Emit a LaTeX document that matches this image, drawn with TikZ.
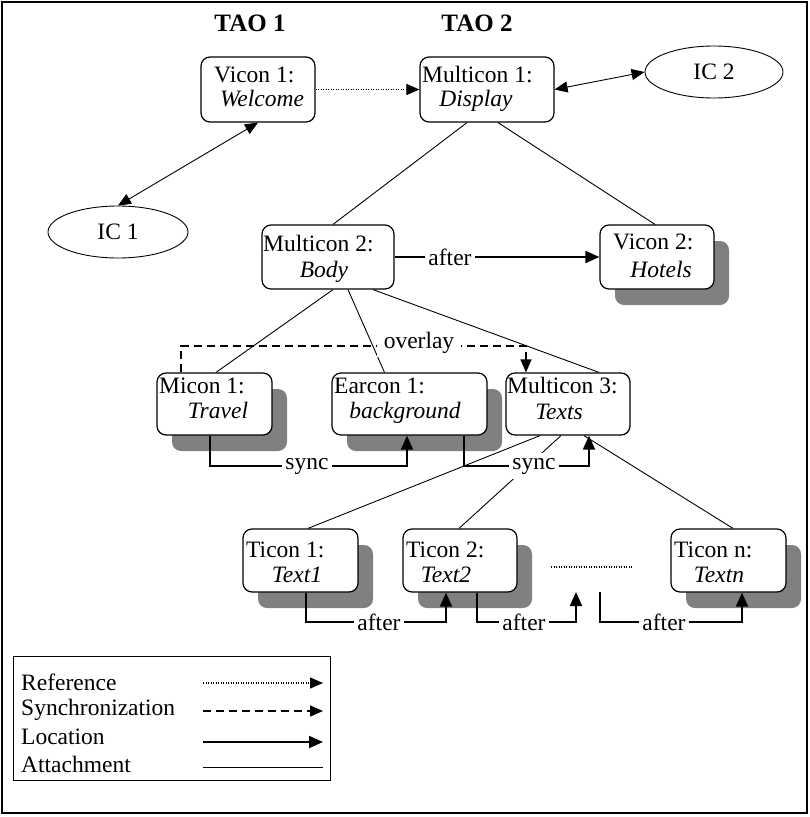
\documentclass[tikz,border=0pt]{standalone}
\usepackage{fontspec}
\setmainfont{Liberation Serif}
\usetikzlibrary{arrows.meta,calc,shapes.geometric}
\definecolor{shadegray}{HTML}{808080}
\begin{document}
\begin{tikzpicture}[x=1pt,y=-1pt,
  font=\fontsize{23.5}{25}\selectfont,
  objbox/.style={draw, line width=1.2pt, rounded corners=9pt, fill=white, inner sep=0pt},
  shadebox/.style={fill=shadegray, rounded corners=9pt},
  txt/.style={inner sep=0pt},
  icell/.style={draw, ellipse, line width=0.9pt, inner sep=0pt},
  attach/.style={line width=0.9pt},
  dotline/.style={line width=1.1pt, dash pattern=on 1.1pt off 1.4pt},
  locarrow/.style={line width=1.8pt, -{Triangle[length=14pt,width=12pt]}},
  dblarrow/.style={line width=0.9pt, {Triangle[length=13pt,width=11pt]}-{Triangle[length=13pt,width=11pt]}},
  refarrow/.style={dotline, -{Triangle[length=13pt,width=11pt]}},
  syncarrow/.style={line width=1.5pt, dash pattern=on 8pt off 5pt, -{Triangle[length=13pt,width=11pt]}},
  lbl/.style={fill=white, inner sep=3pt},
  taolbl/.style={inner sep=0pt, font=\fontsize{25}{27}\selectfont\bfseries}]
\useasboundingbox (0,0) rectangle (809,817);
\draw[line width=1.5pt] (2,2) rectangle (807,813);

% titles
\node[taolbl] (tao1) at (250,23) {TAO 1};
\node[taolbl] (tao2) at (477,23) {TAO 2};

% shadows
\fill[shadebox] (615,241) rectangle (729,305);
\fill[shadebox] (172,389) rectangle (287,451);
\fill[shadebox] (347,389) rectangle (502,451);
\fill[shadebox] (258,545) rectangle (373,608);
\fill[shadebox] (418,545) rectangle (532,608);
\fill[shadebox] (686,545) rectangle (801,608);

% boxes
\node[objbox, minimum width=114pt, minimum height=65pt] (v1) at (258,89.5) {};
\node[objbox, minimum width=134pt, minimum height=65pt] (m1) at (487,89.5) {};
\node[objbox, minimum width=132pt, minimum height=64pt] (m2) at (328,257) {};
\node[objbox, minimum width=114pt, minimum height=64pt] (v2) at (657,257) {};
\node[objbox, minimum width=115pt, minimum height=62pt] (mi1) at (214.5,404) {};
\node[objbox, minimum width=155pt, minimum height=62pt] (e1) at (409.5,404) {};
\node[objbox, minimum width=124pt, minimum height=62pt] (m3) at (568,404) {};
\node[objbox, minimum width=115pt, minimum height=63pt] (t1) at (300.5,560.5) {};
\node[objbox, minimum width=114pt, minimum height=63pt] (t2) at (460,560.5) {};
\node[objbox, minimum width=115pt, minimum height=63pt] (tn) at (728.5,560.5) {};

% box texts
\node[txt, anchor=base west] (v1a) at (214,82) {Vicon 1:};
\node[txt, anchor=base] (v1b) at (262,106) {\itshape Welcome};
\node[txt, anchor=base west] (m1a) at (422,82) {Multicon 1:};
\node[txt, anchor=base] (m1b) at (476,106) {\itshape Display};
\node[txt, anchor=base west] (m2a) at (263,251) {Multicon 2:};
\node[txt, anchor=base] (m2b) at (324,277) {\itshape Body};
\node[txt, anchor=base west] (v2a) at (613,249) {Vicon 2:};
\node[txt, anchor=base] (v2b) at (661,277) {\itshape Hotels};
\node[txt, anchor=base west] (mi1a) at (159,393) {Micon 1:};
\node[txt, anchor=base] (mi1b) at (218,418) {\itshape Travel};
\node[txt, anchor=base west] (e1a) at (334,393) {Earcon 1:};
\node[txt, anchor=base] (e1b) at (405,418) {\itshape background};
\node[txt, anchor=base west] (m3a) at (507,393) {Multicon 3:};
\node[txt, anchor=base] (m3b) at (559,419) {\itshape Texts};
\node[txt, anchor=base west] (t1a) at (246,557) {Ticon 1:};
\node[txt, anchor=base] (t1b) at (297,582) {\itshape Text1};
\node[txt, anchor=base west] (t2a) at (406,557) {Ticon 2:};
\node[txt, anchor=base] (t2b) at (446,582) {\itshape Text2};
\node[txt, anchor=base west] (tna) at (674,557) {Ticon n:};
\node[txt, anchor=base] (tnb) at (719,582) {\itshape Textn};

% ellipses
\node[icell, minimum width=140pt, minimum height=52pt] (ic1) at (118,232) {IC 1};
\node[icell, minimum width=138pt, minimum height=52pt] (ic2) at (714,72) {IC 2};

% helper coordinates
\coordinate (yo) at (0,346);
\coordinate (ys) at (0,466);
\coordinate (ya) at (0,622);

% reference and location between top items
\draw[refarrow] (v1.east) -- (m1.west);
\draw[dblarrow] (m1.east) -- (ic2.west);
\draw[dblarrow] (v1.south) -- (ic1.north);

% attachments
\draw[attach] ([xshift=-20]m1.south) -- ([xshift=5]m2.north);
\draw[attach] ([xshift=11]m1.south) -- ([xshift=-2]v2.north);
\draw[attach] ([xshift=5]m2.south) -- ([xshift=1.5]mi1.north);
\draw[attach] ([xshift=20]m2.south) -- ([xshift=-25]e1.north);
\draw[attach] ([xshift=45]m2.south) -- ([xshift=31]m3.north);
\draw[attach] ([xshift=-28]m3.south) -- ([xshift=7.5]t1.north);
\draw[attach] ([xshift=-7]m3.south) -- ([xshift=-1]t2.north);
\draw[attach] ([xshift=16]m3.south) -- ([xshift=4.5]tn.north);

% overlay (synchronization)
\coordinate (o1) at ([xshift=-33.5]mi1.north);
\coordinate (o2) at ([xshift=-42]m3.north);
\draw[syncarrow] (o1) -- (o1 |- yo) -| (o2);

% location: after Body -> Hotels
\draw[locarrow] (m2.east) -- (v2.west);

% sync arrows
\coordinate (s1a) at ([xshift=-4.5]mi1.south);
\coordinate (s1b) at ([xshift=-2.5]e1.south);
\draw[locarrow] (s1a) -- (s1a |- ys) -| (s1b);
\coordinate (s2a) at ([xshift=54.5]e1.south);
\coordinate (s2b) at ([xshift=21]m3.south);
\draw[locarrow] (s2a) -- (s2a |- ys) -| (s2b);

% after arrows among ticons
\coordinate (a1a) at ([xshift=5.5]t1.south);
\coordinate (a1b) at ([xshift=-14]t2.south);
\draw[locarrow] (a1a) -- (a1a |- ya) -| (a1b);
\coordinate (a2a) at ([xshift=17]t2.south);
\coordinate (a2b) at (576,592);
\draw[locarrow] (a2a) -- (a2a |- ya) -| (a2b);
\coordinate (a3a) at (600,592);
\coordinate (a3b) at ([xshift=13.5]tn.south);
\draw[locarrow] (a3a) -- (a3a |- ya) -| (a3b);

% dotted ellipsis between ticons
\coordinate (d1) at (551,567);
\coordinate (d2) at (633,567);
\draw[dotline] (d1) -- (d2);

% labels
\node[lbl] (l1) at (450,257) {after};
\node[lbl, inner xsep=7pt] (l2) at (419,343) {overlay};
\node[lbl] (l3) at (307,466) {sync};
\node[lbl, inner ysep=5pt] (l4) at (534,466) {sync};
\node[lbl] (l5) at (379,622) {after};
\node[lbl] (l6) at (524,622) {after};
\node[lbl] (l7) at (664,622) {after};

% legend
\node[draw, line width=1pt, minimum width=317pt, minimum height=124pt, anchor=north west, inner sep=0pt] (leg) at (13,656) {};
\node[txt, anchor=west] (lg1) at (21,682) {Reference};
\node[txt, anchor=west] (lg2) at (21,710) {Synchronization};
\node[txt, anchor=west] (lg3) at (21,737) {Location};
\node[txt, anchor=west] (lg4) at (21,764) {Attachment};
\coordinate (lr1) at (203,683); \coordinate (lr2) at (323,683);
\coordinate (ls1) at (203,711); \coordinate (ls2) at (323,711);
\coordinate (ll1) at (203,742); \coordinate (ll2) at (323,742);
\coordinate (la1) at (203,767); \coordinate (la2) at (323,767);
\draw[refarrow] (lr1) -- (lr2);
\draw[syncarrow] (ls1) -- (ls2);
\draw[locarrow] (ll1) -- (ll2);
\draw[attach] (la1) -- (la2);
\end{tikzpicture}
\end{document}
